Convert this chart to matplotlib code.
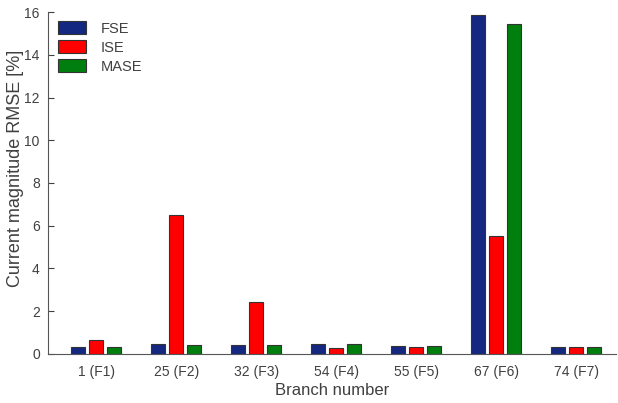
import numpy as np
import matplotlib
matplotlib.use("Agg")
import matplotlib.pyplot as plt
from matplotlib.patches import Patch

plt.rcParams["font.family"] = ["Liberation Sans", "DejaVu Sans"]

branches = ["1 (F1)", "25 (F2)", "32 (F3)", "54 (F4)", "55 (F5)", "67 (F6)", "74 (F7)"]
fse = [0.30, 0.45, 0.42, 0.45, 0.36, 15.85, 0.32]
ise = [0.64, 6.50, 2.42, 0.28, 0.30, 5.50, 0.30]
mase = [0.30, 0.42, 0.42, 0.45, 0.35, 15.45, 0.33]

series = [("FSE", fse, "#142882"), ("ISE", ise, "#ff0000"), ("MASE", mase, "#007f0e")]
GREY = "#404040"

fig = plt.figure(figsize=(6.18, 4.03), dpi=100)
ax = fig.add_axes([0.078, 0.122, 0.919, 0.848])

x = np.arange(1, len(branches) + 1)
w, step = 0.18, 0.225
for i, (name, vals, col) in enumerate(series):
    ax.bar(x + (i - 1) * step, vals, width=w, color=col,
           edgecolor="#333333", linewidth=0.8, label=name)

ax.set_xlim(0.4, 7.5)
ax.set_ylim(0, 16)
ax.set_yticks(np.arange(0, 17, 2))
ax.set_xticks(x)
ax.set_xticklabels(branches)
ax.tick_params(axis="both", direction="in", colors=GREY, labelsize=10,
               length=4, width=0.8)
ax.tick_params(axis="y", pad=6)
ax.tick_params(axis="x", length=0, pad=8)
for s in ("top", "right"):
    ax.spines[s].set_visible(False)
for s in ("left", "bottom"):
    ax.spines[s].set_color("#555555")
    ax.spines[s].set_linewidth(0.8)

ax.set_xlabel("Branch number", fontsize=12, color=GREY, labelpad=3)
ax.set_ylabel("Current magnitude RMSE [%]", fontsize=13, color=GREY)
ax.yaxis.set_label_coords(-0.042, 0.544)

handles = [Patch(facecolor=c, edgecolor="#333333", linewidth=0.8) for _, _, c in series]
ax.legend(handles, [n for n, _, _ in series], loc="upper left",
          bbox_to_anchor=(0.007, 0.99), borderaxespad=0, frameon=False,
          fontsize=10.5, handlelength=1.9, handleheight=0.95,
          labelspacing=0.32, handletextpad=1.0, labelcolor=GREY)

fig.savefig("out.png", dpi=100)
